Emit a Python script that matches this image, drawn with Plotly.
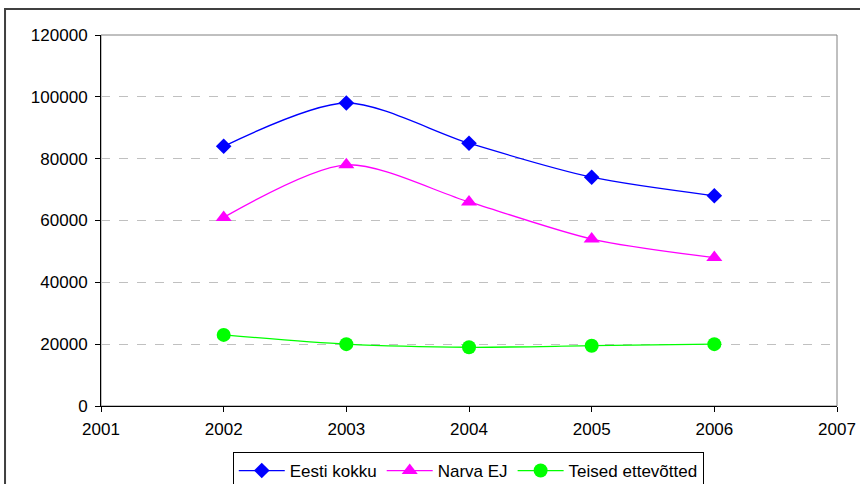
import plotly.graph_objects as go

# Years and series values
years = [2002, 2003, 2004, 2005, 2006]
eesti_kokku = [84000, 98000, 85000, 74000, 68000]
narva_ej = [61000, 78000, 66000, 54000, 48000]
teised = [23000, 20000, 19000, 19500, 20000]

series_names = ["Eesti kokku", "Narva EJ", "Teised ettevõtted"]
y_ticks = [0, 20000, 40000, 60000, 80000, 100000, 120000]
x_ticks = [2001, 2002, 2003, 2004, 2005, 2006, 2007]

FONT = "Liberation Sans, Arial, sans-serif"

fig = go.Figure()

styles = [
    (eesti_kokku, "#0000FF", "diamond", 12),
    (narva_ej, "#FF00FF", "triangle-up", 14),
    (teised, "#00FF00", "circle", 14),
]
for name, (vals, color, symbol, size) in zip(series_names, styles):
    fig.add_trace(go.Scatter(
        x=years, y=vals, name=name,
        mode="lines+markers",
        line=dict(color=color, width=1.3, shape="spline", smoothing=0.8),
        marker=dict(color=color, symbol=symbol, size=size, line=dict(width=0)),
    ))

fig.update_layout(
    width=860, height=484,
    margin=dict(l=101, r=23, t=35, b=78, autoexpand=False),
    paper_bgcolor="white", plot_bgcolor="white",
    font=dict(family=FONT, size=17, color="black"),
    showlegend=True,
    legend=dict(
        orientation="h", x=0.499, xanchor="center", y=-0.124, yanchor="top",
        bordercolor="black", borderwidth=1, bgcolor="white",
        font=dict(family=FONT, size=17, color="black"),
        itemwidth=46, tracegroupgap=0,
    ),
    shapes=[
        # plot-area frame (grey top and right edges)
        dict(type="rect", xref="paper", yref="paper", x0=0, x1=1, y0=0, y1=1,
             line=dict(color="#808080", width=1), layer="below"),
        # outer chart frame
        dict(type="rect", xref="paper", yref="paper", x0=-0.1304, x1=1.2,
             y0=-0.5, y1=1.0701, line=dict(color="#404040", width=2), layer="below"),
    ],
)

fig.update_xaxes(
    range=[2001, 2007], tickvals=x_ticks, ticktext=[str(v) for v in x_ticks],
    showgrid=False, zeroline=False,
    showline=True, linecolor="black", linewidth=1,
    ticks="outside", ticklen=5, tickcolor="black",
    tickfont=dict(family=FONT, size=17), ticklabelstandoff=3,
)
fig.update_yaxes(
    range=[0, 120000], tickvals=y_ticks, tickformat="d",
    showgrid=True, gridcolor="#C0C0C0", griddash="dash", gridwidth=1,
    zeroline=False,
    showline=True, linecolor="black", linewidth=1,
    ticks="outside", ticklen=5, tickcolor="black",
    tickfont=dict(family=FONT, size=17), ticklabelstandoff=4,
)

fig.write_html("out.html")
